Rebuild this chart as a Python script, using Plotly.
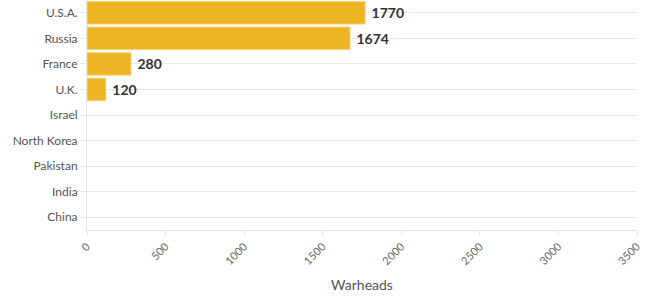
import plotly.graph_objects as go

countries = ["U.S.A.", "Russia", "France", "U.K.", "Israel", "North Korea", "Pakistan", "India", "China"]
warheads = [1770, 1674, 280, 120, None, None, None, None, None]
x_ticks = [0, 500, 1000, 1500, 2000, 2500, 3000, 3500]

labels = [" " + str(v) if v is not None else "" for v in warheads]

fig = go.Figure(go.Bar(
    y=countries,
    x=warheads,
    orientation="h",
    marker=dict(color="#EFB422", line=dict(color="#F7D47A", width=1)),
    text=labels,
    textposition="outside",
    textfont=dict(family="Lato", size=14, color="#333333", weight="bold"),
    cliponaxis=False,
    width=0.88,
    hoverinfo="skip",
))

fig.update_layout(
    width=659, height=300,
    margin=dict(l=87, r=22, t=0, b=70),
    plot_bgcolor="white", paper_bgcolor="white",
    font=dict(family="Lato", size=12, color="#555555"),
    showlegend=False,
    xaxis=dict(
        range=[0, 3500], tickvals=x_ticks, ticktext=[str(t) for t in x_ticks],
        tickangle=-45, showgrid=False, zeroline=False, automargin=False,
        showline=True, linecolor="#e6e6e6", linewidth=1,
        ticks="outside", ticklen=5, tickcolor="#e6e6e6",
        tickfont=dict(size=11, color="#666666"),
        title=dict(text="Warheads", font=dict(size=14, color="#555555"), standoff=14),
    ),
    yaxis=dict(
        categoryorder="array", categoryarray=countries, autorange="reversed",
        showgrid=True, gridcolor="#e8e8e8", gridwidth=1, automargin=False,
        showline=True, linecolor="#e6e6e6", linewidth=1,
        ticks="outside", ticklen=6, tickcolor="#e6e6e6",
        tickfont=dict(size=12, color="#555555"),
        zeroline=False,
    ),
)

fig.write_html("out.html", config={"displayModeBar": False},
               post_script="document.body.style.margin='0';")
